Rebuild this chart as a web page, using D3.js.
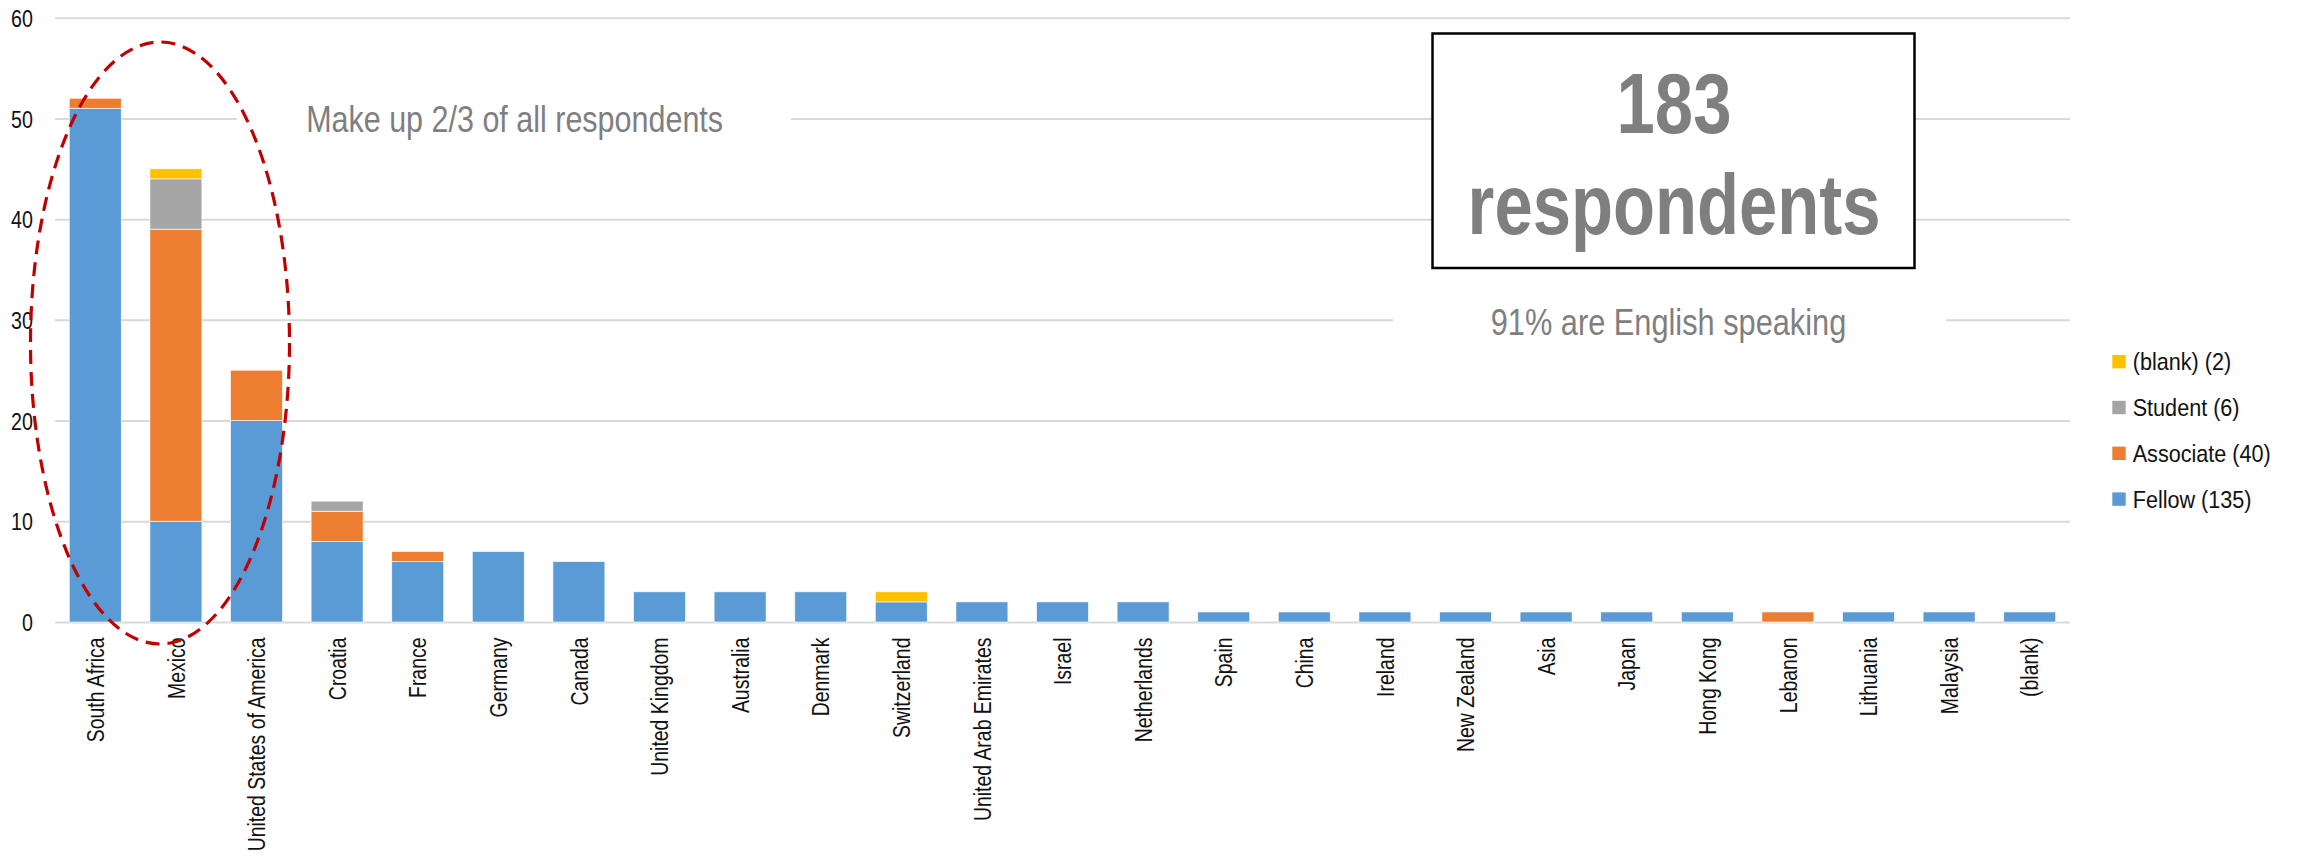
<!DOCTYPE html>
<html><head><meta charset="utf-8">
<script src="https://cdn.jsdelivr.net/npm/d3@7"></script>
<style>html,body{margin:0;padding:0;background:#fff;} svg{display:block;}</style>
</head><body><svg id="chart" width="2297" height="856"></svg>
<script>
// ---- data ----
const categories = ["South Africa","Mexico","United States of America","Croatia","France","Germany","Canada","United Kingdom","Australia","Denmark","Switzerland","United Arab Emirates","Israel","Netherlands","Spain","China","Ireland","New Zealand","Asia","Japan","Hong Kong","Lebanon","Lithuania","Malaysia","(blank)"];
const fellow    = [51,10,20,8,6,7,6,3,3,3,2,2,2,2,1,1,1,1,1,1,1,0,1,1,1];
const associate = [1,29,5,3,1,0,0,0,0,0,0,0,0,0,0,0,0,0,0,0,0,1,0,0,0];
const student   = [0,5,0,1,0,0,0,0,0,0,0,0,0,0,0,0,0,0,0,0,0,0,0,0,0];
const blankType = [0,1,0,0,0,0,0,0,0,0,1,0,0,0,0,0,0,0,0,0,0,0,0,0,0];
const seriesKeys = ["Fellow","Associate","Student","(blank)"];
const legendKeys = ["(blank)","Student","Associate","Fellow"];
const legendLabels = ["(blank) (2)","Student (6)","Associate (40)","Fellow (135)"];
const yTicks = [0,10,20,30,40,50,60];
const totalLabel = ["183","respondents"];
const noteTop = "Make up 2/3 of all respondents";
const noteEnglish = "91% are English speaking";

// ---- styles ----
const colors = {"Fellow":"#5B9BD5","Associate":"#ED7D31","Student":"#A5A5A5","(blank)":"#FFC000"};
const FONT = "'Liberation Sans', Arial, sans-serif";
const NARROW = 0.82;

const svg = d3.select("#chart");
svg.append("rect").attr("width",2297).attr("height",856).attr("fill","#fff");

const x = d3.scaleBand().domain(categories).range([55, 2070]).paddingInner(0.355).paddingOuter(0.1775);
const y = d3.scaleLinear().domain([0, 60]).range([622, 17.7]);

// gridlines + y labels
const yAxis = svg.append("g").attr("transform","translate(55,0)")
  .call(d3.axisLeft(y).tickValues(yTicks).tickSize(-(2070-55)).tickPadding(22).tickFormat(d3.format("d")));
yAxis.select(".domain").remove();
yAxis.selectAll(".tick line").attr("stroke","#D9D9D9").attr("stroke-width",2);
yAxis.selectAll(".tick text")
  .attr("x",0).attr("dy","0.36em")
  .attr("transform",`translate(-22,0) scale(${NARROW},1)`)
  .attr("font-family",FONT).attr("font-size",24).attr("fill","#111").attr("text-anchor","end");

// white backings for annotations (interrupt gridlines)
svg.append("rect").attr("x",237).attr("y",95).attr("width",554).attr("height",55).attr("fill","#fff");
svg.append("rect").attr("x",1393).attr("y",295).attr("width",553).attr("height",55).attr("fill","#fff");

// stacked bars
const rows = categories.map((c,i)=>({cat:c,"Fellow":fellow[i],"Associate":associate[i],"Student":student[i],"(blank)":blankType[i]}));
const stacked = d3.stack().keys(seriesKeys)(rows);
svg.append("g").selectAll("g").data(stacked).join("g")
  .attr("fill", d=>colors[d.key])
  .selectAll("rect").data(d=>d.filter(s=>s[1]-s[0]>0)).join("rect")
  .attr("x", d=>x(d.data.cat))
  .attr("width", x.bandwidth())
  .attr("y", d=>y(d[1]))
  .attr("height", d=>y(d[0])-y(d[1]))
  .attr("stroke","#fff").attr("stroke-width",0.8).attr("stroke-opacity",0.8);

// x axis labels
const xAxis = svg.append("g").attr("transform","translate(0,622)")
  .call(d3.axisBottom(x).tickSize(0).tickPadding(0));
xAxis.select(".domain").remove();
xAxis.selectAll(".tick text")
  .attr("x",0).attr("y",0).attr("dy","0.36em")
  .attr("transform",`translate(0,15.5) rotate(-90) scale(0.81,1)`)
  .attr("text-anchor","end")
  .attr("font-family",FONT).attr("font-size",24).attr("fill","#111");

// legend
const legend = svg.append("g");
legendKeys.forEach((k,i)=>{
  const cy = 361.7 + i*45.8;
  legend.append("rect").attr("x",2112.3).attr("y",cy-6.7).attr("width",13.4).attr("height",13.4).attr("fill",colors[k]);
  legend.append("text").attr("transform",`translate(2132.7,${cy}) scale(0.9,1)`)
    .attr("dy","0.36em").attr("font-family",FONT).attr("font-size",24).attr("fill","#111").text(legendLabels[i]);
});

// annotations
svg.append("text").attr("transform",`translate(514.6,131.7) scale(${NARROW},1)`)
  .attr("text-anchor","middle").attr("font-family",FONT).attr("font-size",37.2).attr("fill","#7F7F7F").text(noteTop);
svg.append("text").attr("transform",`translate(1668.5,335) scale(${NARROW},1)`)
  .attr("text-anchor","middle").attr("font-family",FONT).attr("font-size",37.5).attr("fill","#7F7F7F").text(noteEnglish);

// total box
svg.append("rect").attr("x",1432.5).attr("y",33.5).attr("width",482).attr("height",234.5)
  .attr("fill","#fff").attr("stroke","#000").attr("stroke-width",2.5);
svg.append("text").attr("transform","translate(1674,133.3) scale(0.8,1)")
  .attr("text-anchor","middle").attr("font-family",FONT).attr("font-weight","bold").attr("font-size",86).attr("fill","#7F7F7F").text(totalLabel[0]);
svg.append("text").attr("transform","translate(1674,233.5) scale(0.8,1)")
  .attr("text-anchor","middle").attr("font-family",FONT).attr("font-weight","bold").attr("font-size",86).attr("fill","#7F7F7F").text(totalLabel[1]);

// dashed highlight ellipse around the top three countries
svg.append("ellipse").attr("cx",160).attr("cy",343).attr("rx",129.5).attr("ry",301)
  .attr("fill","none").attr("stroke","#C00000").attr("stroke-width",3.2).attr("stroke-dasharray","14,8");
</script>
</body></html>
